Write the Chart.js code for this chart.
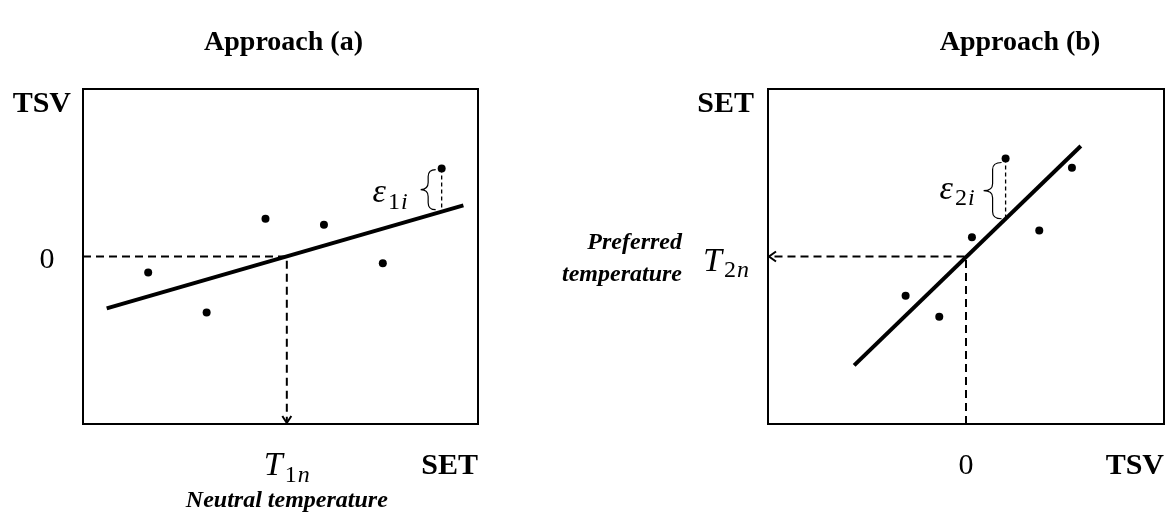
<!DOCTYPE html>
<html>
<head>
<meta charset="utf-8">
<script src="https://cdn.jsdelivr.net/npm/chart.js@4.4.1/dist/chart.umd.min.js"></script>
<style>
  body { margin: 0; background: #fff; width: 1173px; height: 515px; overflow: hidden; position: relative; }
  #wa { position: absolute; left: 0; top: 0; }
  #wb { position: absolute; left: 540px; top: 0; }
</style>
</head>
<body>
<div id="wa"><canvas id="chartA" width="540" height="515"></canvas></div>
<div id="wb"><canvas id="chartB" width="633" height="515"></canvas></div>
<script>
// approach (a): TSV regressed on SET
let setA = [1.65, 3.13, 4.62, 6.10, 7.59, 9.08]
let tsvA = [-0.19, -0.67, 0.45, 0.38, -0.08, 1.05]
let fitSetA = [0.60, 9.63]
let fitTsvA = [-0.62, 0.61]
let neutralSet = 5.16
let residA = 5

// approach (b): SET regressed on TSV
let tsvB = [0.40, 1.07, 0.06, 0.74, -0.61, -0.27]
let setB = [1.17, 1.06, 0.23, 0.31, -0.47, -0.72]
let fitTsvB = [-1.13, 1.16]
let fitSetB = [-1.30, 1.32]
let preferredSet = 0
let residB = 0

let titles = ['Approach (a)', 'Approach (b)']
let zeroTick = '0'

const serif = '"Liberation Serif", "Times New Roman", serif'

function onFit(xs, ys, x) {
    return ys[0] + (ys[1] - ys[0]) * (x - xs[0]) / (xs[1] - xs[0])
}

function pts(xs, ys) {
    return xs.map((x, i) => ({ x: x, y: ys[i] }))
}

// italic letter with a subscript, e.g. T_1n
function mathText(ctx, main, subDigit, subLetter, size, x, y, align) {
    let s = Math.round(size * 0.72)
    ctx.font = 'italic ' + size + 'px ' + serif
    let w1 = ctx.measureText(main).width + 2
    ctx.font = s + 'px ' + serif
    let w2 = ctx.measureText(subDigit).width + 1
    ctx.font = 'italic ' + s + 'px ' + serif
    let w3 = ctx.measureText(subLetter).width
    let total = w1 + w2 + w3
    let x0 = align == 'center' ? x - total / 2 : align == 'right' ? x - total : x
    ctx.textAlign = 'left'
    ctx.textBaseline = 'alphabetic'
    ctx.font = 'italic ' + size + 'px ' + serif
    ctx.fillText(main, x0, y)
    ctx.font = s + 'px ' + serif
    ctx.fillText(subDigit, x0 + w1, y + size * 0.2)
    ctx.font = 'italic ' + s + 'px ' + serif
    ctx.fillText(subLetter, x0 + w1 + w2, y + size * 0.2)
}

function txt(ctx, t, font, x, y, align) {
    ctx.font = font
    ctx.textAlign = align
    ctx.textBaseline = 'alphabetic'
    ctx.fillText(t, x, y)
}

function brace(ctx, xr, y0, y1, depth) {
    let xm = xr - depth * 0.5, xt = xr - depth, ym = (y0 + y1) / 2
    let r = Math.min(7, (y1 - y0) / 4)
    ctx.beginPath()
    ctx.moveTo(xr, y0)
    ctx.quadraticCurveTo(xm, y0, xm, y0 + r)
    ctx.lineTo(xm, ym - r)
    ctx.quadraticCurveTo(xm, ym, xt, ym)
    ctx.quadraticCurveTo(xm, ym, xm, ym + r)
    ctx.lineTo(xm, y1 - r)
    ctx.quadraticCurveTo(xm, y1, xr, y1)
    ctx.stroke()
}

let frame = {
    id: 'frame',
    afterDraw(chart, args, opts) {
        let ctx = chart.ctx
        let ca = chart.chartArea
        ctx.save()
        ctx.strokeStyle = '#000'
        ctx.fillStyle = '#000'
        ctx.lineWidth = 2
        ctx.strokeRect(ca.left, ca.top, ca.right - ca.left, ca.bottom - ca.top)
        opts.draw(chart, ctx, ca, chart.scales.x, chart.scales.y)
        ctx.restore()
    }
}

function baseOptions(xr, yr, pad, draw) {
    return {
        responsive: false,
        animation: false,
        devicePixelRatio: 1,
        events: [],
        layout: { padding: pad },
        scales: {
            x: { type: 'linear', min: xr[0], max: xr[1], display: false },
            y: { type: 'linear', min: yr[0], max: yr[1], display: false }
        },
        plugins: {
            legend: { display: false },
            tooltip: { enabled: false },
            title: { display: false },
            frame: { draw: draw }
        }
    }
}

function datasets(xs, ys, fx, fy, guide, ri) {
    return [
        { data: pts(xs, ys), pointRadius: 4, backgroundColor: '#000', borderWidth: 0 },
        { data: pts(fx, fy), showLine: true, borderColor: '#000', borderWidth: 4, pointRadius: 0 },
        { data: guide, showLine: true, borderColor: '#000', borderWidth: 2, borderDash: [8, 5], pointRadius: 0 },
        { data: [{ x: xs[ri], y: ys[ri] }, { x: xs[ri], y: onFit(fx, fy, xs[ri]) }],
          showLine: true, borderColor: '#000', borderWidth: 1.3, borderDash: [4, 3], pointRadius: 0 }
    ]
}

// chart A
new Chart(document.getElementById('chartA'), {
    type: 'scatter',
    data: {
        datasets: datasets(setA, tsvA, fitSetA, fitTsvA,
            [{ x: 0, y: 0 }, { x: neutralSet, y: 0 }, { x: neutralSet, y: -2 }], residA)
    },
    plugins: [frame],
    options: baseOptions([0, 10], [-2, 2], { left: 83, top: 89, right: 62, bottom: 91 }, function (chart, ctx, ca, x, y) {
        // arrow head at the bottom
        let ax = x.getPixelForValue(neutralSet), ay = ca.bottom
        ctx.lineWidth = 2
        ctx.beginPath()
        ctx.moveTo(ax - 4.5, ay - 8)
        ctx.lineTo(ax, ay - 1)
        ctx.lineTo(ax + 4.5, ay - 8)
        ctx.stroke()
        // residual brace
        let px = x.getPixelForValue(setA[residA])
        let py = y.getPixelForValue(tsvA[residA])
        let ly = y.getPixelForValue(onFit(fitSetA, fitTsvA, setA[residA]))
        ctx.lineWidth = 1.2
        brace(ctx, px - 6, py + 1, ly - 2, 15)
        mathText(ctx, '\u03b5', '1', 'i', 34, px - 34, (py + ly) / 2 + 12, 'right')

        txt(ctx, titles[0], 'bold 28px ' + serif, (ca.left + ca.right) / 2 + 3, 50, 'center')
        txt(ctx, 'TSV', 'bold 30px ' + serif, ca.left - 12, ca.top + 23, 'right')
        txt(ctx, zeroTick, '30px ' + serif, ca.left - 36, y.getPixelForValue(0) + 11, 'center')
        txt(ctx, 'SET', 'bold 30px ' + serif, ca.right, ca.bottom + 50, 'right')
        mathText(ctx, 'T', '1', 'n', 34, ax, ca.bottom + 51, 'center')
        txt(ctx, 'Neutral temperature', 'bold italic 24px ' + serif, ax, ca.bottom + 83, 'center')
    })
})

// chart B
new Chart(document.getElementById('chartB'), {
    type: 'scatter',
    data: {
        datasets: datasets(tsvB, setB, fitTsvB, fitSetB,
            [{ x: 0, y: -2 }, { x: 0, y: preferredSet }, { x: -2, y: preferredSet }], residB)
    },
    plugins: [frame],
    options: baseOptions([-2, 2], [-2, 2], { left: 228, top: 89, right: 9, bottom: 91 }, function (chart, ctx, ca, x, y) {
        // arrow head at the left
        let ax = ca.left, ay = y.getPixelForValue(preferredSet)
        ctx.lineWidth = 2
        ctx.beginPath()
        ctx.moveTo(ax + 8, ay - 5)
        ctx.lineTo(ax + 1, ay)
        ctx.lineTo(ax + 8, ay + 5)
        ctx.stroke()
        // residual brace
        let px = x.getPixelForValue(tsvB[residB])
        let py = y.getPixelForValue(setB[residB])
        let ly = y.getPixelForValue(onFit(fitTsvB, fitSetB, tsvB[residB]))
        ctx.lineWidth = 1.2
        brace(ctx, px - 4, py + 4, ly, 18)
        mathText(ctx, '\u03b5', '2', 'i', 34, px - 31, (py + ly) / 2 + 10, 'right')

        txt(ctx, titles[1], 'bold 28px ' + serif, (ca.left + ca.right) / 2 + 54, 50, 'center')
        txt(ctx, 'SET', 'bold 30px ' + serif, ca.left - 14, ca.top + 23, 'right')
        txt(ctx, 'Preferred', 'bold italic 24px ' + serif, ca.left - 86, ay - 8, 'right')
        txt(ctx, 'temperature', 'bold italic 24px ' + serif, ca.left - 86, ay + 24, 'right')
        mathText(ctx, 'T', '2', 'n', 34, ca.left - 65, ay + 14, 'left')
        txt(ctx, zeroTick, '30px ' + serif, x.getPixelForValue(0), ca.bottom + 50, 'center')
        txt(ctx, 'TSV', 'bold 30px ' + serif, ca.right, ca.bottom + 50, 'right')
    })
})
</script>
</body>
</html>
